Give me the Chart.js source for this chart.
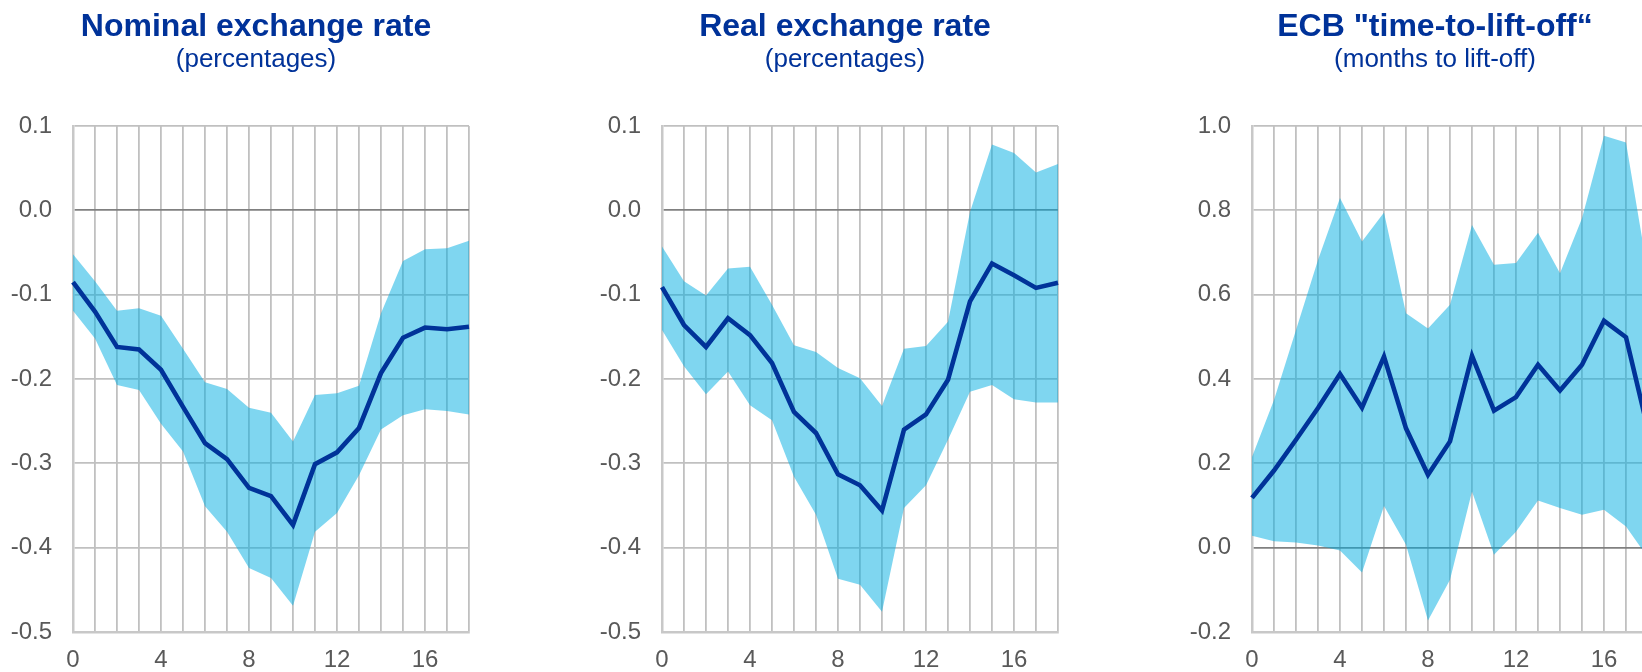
<!DOCTYPE html>
<html>
<head>
<meta charset="utf-8">
<script src="https://cdn.jsdelivr.net/npm/chart.js@4"></script>
<style>
    html, body { margin: 0; padding: 0; background: #fff; }
    body { width: 1642px; height: 672px; overflow: hidden; position: relative; font-family: 'Liberation Sans', Arial, sans-serif; color: #003299; }
    .panel { position: absolute; top: 0; width: 512px; height: 672px; }
    .panel canvas { position: absolute; left: 0; top: 0; }
    .title { position: absolute; top: 9.4px; left: 156px; width: 200px; text-align: center; white-space: nowrap; font-size: 32px; font-weight: bold; line-height: 1; }
    .title span, .sub span { display: inline-block; transform: translateX(-50%); margin-left: 100px; }
    .sub { position: absolute; top: 44.8px; left: 156px; width: 200px; white-space: nowrap; font-size: 26px; line-height: 1; }
    .title, .sub { text-align: left; }
</style>
</head>
<body>
<div class="panel" style="left:0px">
    <canvas id="nominalChart" width="512" height="672"></canvas>
    <div class="title"><span>Nominal exchange rate</span></div>
    <div class="sub"><span>(percentages)</span></div>
</div>
<div class="panel" style="left:589px">
    <canvas id="realChart" width="512" height="672"></canvas>
    <div class="title"><span>Real exchange rate</span></div>
    <div class="sub"><span>(percentages)</span></div>
</div>
<div class="panel" style="left:1179px">
    <canvas id="liftoffChart" width="512" height="672"></canvas>
    <div class="title"><span>ECB "time-to-lift-off“</span></div>
    <div class="sub"><span>(months to lift-off)</span></div>
</div>
<script>
// ─── DATA ───
const horizons = [0, 1, 2, 3, 4, 5, 6, 7, 8, 9, 10, 11, 12, 13, 14, 15, 16, 17, 18];
const xTickLabels = [0, 4, 8, 12, 16];

const nominalMedian = [-0.085, -0.120, -0.162, -0.165, -0.189, -0.233, -0.276, -0.295, -0.329, -0.339, -0.373, -0.301, -0.287, -0.258, -0.193, -0.151, -0.139, -0.141, -0.138];
const nominalUpper  = [-0.052, -0.084, -0.119, -0.116, -0.125, -0.164, -0.204, -0.212, -0.234, -0.240, -0.274, -0.219, -0.217, -0.208, -0.122, -0.060, -0.046, -0.045, -0.036];
const nominalLower  = [-0.119, -0.152, -0.207, -0.213, -0.253, -0.286, -0.351, -0.381, -0.424, -0.436, -0.469, -0.381, -0.359, -0.314, -0.260, -0.243, -0.236, -0.238, -0.242];

const realMedian = [-0.091, -0.136, -0.162, -0.128, -0.148, -0.181, -0.239, -0.264, -0.313, -0.326, -0.356, -0.260, -0.242, -0.201, -0.108, -0.063, -0.077, -0.092, -0.086];
const realUpper  = [-0.043, -0.084, -0.101, -0.069, -0.067, -0.112, -0.160, -0.168, -0.187, -0.199, -0.232, -0.164, -0.161, -0.132, -0.002, 0.078, 0.068, 0.045, 0.055];
const realLower  = [-0.142, -0.185, -0.218, -0.191, -0.231, -0.249, -0.316, -0.361, -0.437, -0.444, -0.476, -0.353, -0.326, -0.272, -0.215, -0.207, -0.224, -0.228, -0.228];

const liftoffMedian = [0.118, 0.183, 0.256, 0.331, 0.412, 0.332, 0.453, 0.283, 0.173, 0.252, 0.455, 0.325, 0.357, 0.434, 0.373, 0.434, 0.538, 0.499, 0.280];
const liftoffUpper  = [0.215, 0.350, 0.516, 0.682, 0.829, 0.726, 0.795, 0.556, 0.520, 0.576, 0.765, 0.671, 0.675, 0.747, 0.651, 0.781, 0.977, 0.961, 0.650];
const liftoffLower  = [0.028, 0.015, 0.012, 0.005, -0.007, -0.059, 0.099, 0.007, -0.173, -0.076, 0.133, -0.017, 0.038, 0.112, 0.094, 0.078, 0.090, 0.050, -0.024];

// ─── STYLE ───
const FONT = "'Liberation Sans', Arial, sans-serif";
const LINE_BLUE = '#003399';
const BAND = 'rgba(0,173,225,0.5)';
const GRID = '#c0c0c0';
const ZERO = '#808080';
const TICK = '#595959';

// ─── BUILD ONE PANEL ───
function makeChart(id, median, upper, lower, yMin, yMax, yStep) {
    return new Chart(document.getElementById(id), {
        type: 'line',
        data: {
            labels: horizons,
            datasets: [
                {
                    data: median,
                    borderColor: LINE_BLUE,
                    borderWidth: 4.6,
                    pointRadius: 0,
                    tension: 0,
                    fill: false
                },
                {
                    data: upper,
                    borderWidth: 0,
                    borderColor: 'rgba(0,0,0,0)',
                    backgroundColor: BAND,
                    pointRadius: 0,
                    tension: 0,
                    fill: '+1'
                },
                {
                    data: lower,
                    borderWidth: 0,
                    borderColor: 'rgba(0,0,0,0)',
                    pointRadius: 0,
                    tension: 0,
                    fill: false
                }
            ]
        },
        options: {
            responsive: false,
            animation: false,
            layout: { padding: { left: 0, right: 43, top: 126, bottom: 0 } },
            plugins: {
                legend: { display: false },
                tooltip: { enabled: false }
            },
            scales: {
                x: {
                    type: 'category',
                    offset: false,
                    grid: { color: GRID, lineWidth: 1.8, drawTicks: false },
                    border: { color: '#c8c8c8', width: 2.5 },
                    ticks: {
                        autoSkip: false,
                        maxRotation: 0,
                        color: TICK,
                        font: { family: FONT, size: 24 },
                        padding: 14,
                        callback: function(value, index) {
                            return xTickLabels.includes(horizons[index]) ? String(horizons[index]) : '';
                        }
                    },
                    afterFit: function(scale) { scale.height = 40; }
                },
                y: {
                    min: yMin,
                    max: yMax,
                    grid: {
                        drawTicks: false,
                        lineWidth: 1.8,
                        color: ctx => Math.abs(ctx.tick.value) < 1e-9 ? ZERO : GRID
                    },
                    border: { color: '#c8c8c8', width: 2.5 },
                    ticks: {
                        stepSize: yStep,
                        color: TICK,
                        font: { family: FONT, size: 24 },
                        padding: 21,
                        callback: v => (Math.abs(v) < 1e-9 ? 0 : v).toFixed(1)
                    },
                    afterFit: function(scale) { scale.width = 73; }
                }
            }
        }
    });
}

makeChart('nominalChart', nominalMedian, nominalUpper, nominalLower, -0.5, 0.1, 0.1);
makeChart('realChart', realMedian, realUpper, realLower, -0.5, 0.1, 0.1);
makeChart('liftoffChart', liftoffMedian, liftoffUpper, liftoffLower, -0.2, 1.0, 0.2);
</script>
</body>
</html>
